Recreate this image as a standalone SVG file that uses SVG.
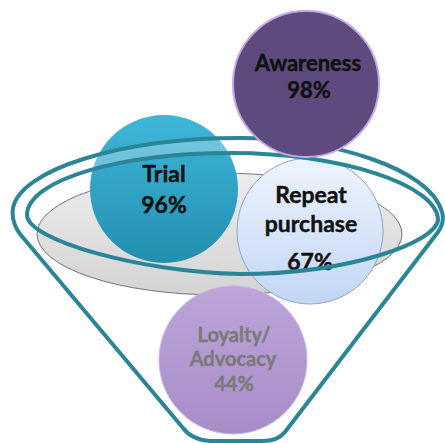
<svg xmlns="http://www.w3.org/2000/svg" width="445" height="443" viewBox="0 0 445 443">
  <style>
    .lbl { font-family: Lato, "Open Sans", "Liberation Sans", sans-serif; font-weight: bold; text-anchor: middle; }
    .dark { fill: #111111; stroke: #111111; stroke-width: 0.45; }
    .soft { fill: #7a7a7a; stroke: #7a7a7a; stroke-width: 0.4; }
    .funnel-line { fill: none; stroke: #2a8597; stroke-width: 4; stroke-linejoin: round; }
  </style>
  <defs>
    <linearGradient id="gBowl" x1="0" y1="0" x2="0" y2="1">
      <stop offset="0" stop-color="#ececec"/>
      <stop offset="1" stop-color="#d4d4d4"/>
    </linearGradient>
    <linearGradient id="gTrial" x1="0" y1="0" x2="0" y2="1">
      <stop offset="0" stop-color="#3fb6d9"/>
      <stop offset="1" stop-color="#2190b0"/>
    </linearGradient>
    <linearGradient id="gRepeat" x1="0" y1="0" x2="0" y2="1">
      <stop offset="0" stop-color="#eef4fd"/>
      <stop offset="1" stop-color="#c2d6f5"/>
    </linearGradient>
    <linearGradient id="gLoyal" x1="0" y1="0" x2="0" y2="1">
      <stop offset="0" stop-color="#bca5d9"/>
      <stop offset="1" stop-color="#a88cc8"/>
    </linearGradient>
  </defs>
  <rect width="445" height="443" fill="#ffffff"/>

  <!-- grey bowl inside the funnel mouth -->
  <g id="bowl">
    <ellipse cx="219.5" cy="234" rx="182.5" ry="61" fill="url(#gBowl)" stroke="#555555" stroke-width="0.8"/>
  </g>

  <g id="trial">
    <circle cx="164" cy="189" r="74" fill="url(#gTrial)"/>
    <text class="lbl dark" x="164" y="182" font-size="23">Trial</text>
    <text class="lbl dark" x="164" y="213" font-size="23">96%</text>
  </g>

  <g id="repeat">
    <circle cx="310" cy="231" r="73" fill="url(#gRepeat)" stroke="#8ea4c4" stroke-width="1"/>
    <text class="lbl dark" x="311" y="203" font-size="23">Repeat</text>
    <text class="lbl dark" x="311" y="232" font-size="23">purchase</text>
    <text class="lbl dark" x="310" y="270" font-size="23">67%</text>
  </g>

  <!-- funnel: translucent rim band, outer body and inner rim -->
  <g id="funnel">
    <path d="M 13 208 C 20 170 120 138 240 138 C 330 138 430 168 442 212 L 438 220 C 438 185 340 153 232 153 C 120 153 27 180 27 215 Z" fill="#ffffff" fill-opacity="0.28"/>
    <path class="funnel-line" d="M 285 432 L 438 232 Q 445 222 442 212 C 430 168 330 138 240 138 C 120 138 20 170 13 208 Q 11 222 20 234 L 183 428 Q 192 440 210 441 L 262 441 Q 278 441 285 432 Z"/>
    <path class="funnel-line" d="M 27 215 C 27 180 120 153 232 153 C 340 153 438 185 438 220 C 436 242 350 274 240 274 C 140 272 27 240 27 215 Z"/>
  </g>

  <g id="awareness">
    <circle cx="306" cy="84" r="73" fill="#5e4a7d" stroke="#c3a6ea" stroke-width="2"/>
    <text class="lbl dark" x="308" y="71" font-size="22">Awareness</text>
    <text class="lbl dark" x="309" y="98" font-size="22">98%</text>
  </g>

  <g id="loyalty">
    <circle cx="233" cy="360" r="74" fill="url(#gLoyal)" stroke="#c9b6e2" stroke-width="1"/>
    <text class="lbl soft" x="234" y="342" font-size="20">Loyalty/</text>
    <text class="lbl soft" x="233" y="366" font-size="20">Advocacy</text>
    <text class="lbl soft" x="234" y="391" font-size="20">44%</text>
  </g>
</svg>
